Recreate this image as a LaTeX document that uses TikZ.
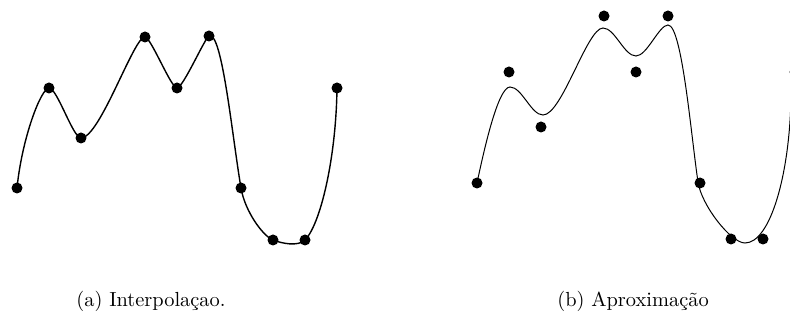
\documentclass[tikz,border=0pt]{standalone}
\usepackage{fontspec}
\begin{document}
\begin{tikzpicture}[x=1pt,y=-1pt,
  dot/.style={circle,fill=black,inner sep=0pt,minimum size=11pt},
  curveA/.style={line width=1.4pt},
  curveB/.style={line width=1pt},
  caption/.style={anchor=base,font=\fontsize{10}{12}\selectfont,scale=2.04,transform shape}]
\path[use as bounding box] (0,0) rectangle (790,320);
\clip (0,0) rectangle (790,320);
% (a) interpolation
\draw[curveA] (17,188) .. controls (22,138) and (41,88.3) .. (49,88)
 .. controls (57,87.7) and (73,138) .. (81,138)
 .. controls (100,138) and (134,36) .. (145,37)
 .. controls (151,37.5) and (171,88) .. (177,88)
 .. controls (183,88) and (205,37.6) .. (209,36)
 .. controls (222,30) and (232,135) .. (241,188)
 .. controls (245,211.6) and (263,236) .. (273,240)
 .. controls (281,243.2) and (298,247) .. (305,240)
 .. controls (320,225) and (336,160) .. (337,88);
\foreach \p [count=\i] in {(17,188),(49,88),(81,138),(145,37),(177,88),(209,36),(241,188),(273,240),(305,240),(337,88)}
  \node[dot] (a\i) at \p {};
% (b) approximation
\draw[curveB] (477,183) .. controls (484,150) and (498,87) .. (510,87)
 .. controls (522,87) and (531,115) .. (543,115)
 .. controls (562,115) and (587,28) .. (603,28)
 .. controls (615,28) and (624,56) .. (636,56)
 .. controls (647,56) and (659,25) .. (668,25)
 .. controls (682,25) and (691,135) .. (698,182)
 .. controls (701.5,205.5) and (731,243) .. (745,243)
 .. controls (770,243) and (790,175) .. (791,95);
\foreach \p [count=\i] in {(477,183),(509,72),(541,127),(604,16),(636,72),(668,16),(700,183),(731,239),(763,239),(795,72)}
  \node[dot] (b\i) at \p {};
\node[caption] (capa) at (151,307) {(a) Interpolaçao.};
\node[caption] (capb) at (633,307) {(b) Aproximação};
\end{tikzpicture}
\end{document}
